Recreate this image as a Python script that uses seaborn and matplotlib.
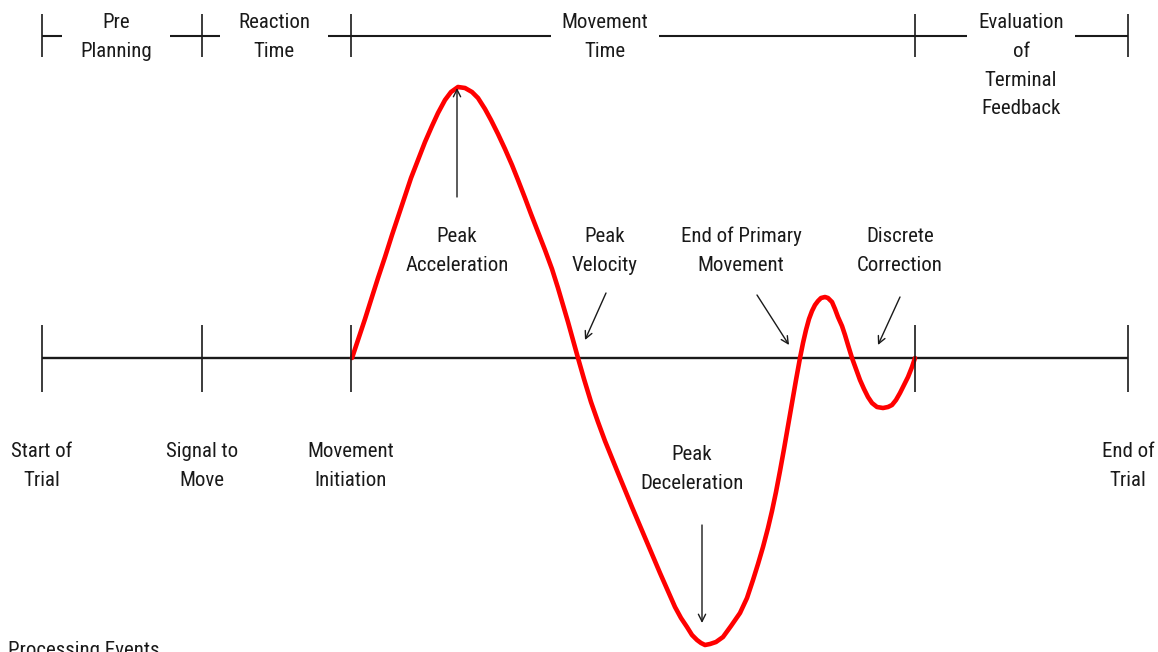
#!/usr/bin/env python3
"""
Movement phases diagram: acceleration profile of an aimed movement
with processing events along the time line.
"""

import matplotlib
matplotlib.use("Agg")
import matplotlib.pyplot as plt
from matplotlib import font_manager
import pandas as pd
import seaborn as sns

# acceleration trace (time, acceleration in arbitrary units)
TIME = [352, 358, 365, 371, 378, 385, 392, 398, 405, 411, 418, 425, 432, 438,
        445, 451, 458, 465, 472, 478, 485, 491, 498, 505, 512, 518, 525, 531,
        538, 545, 552, 558, 563, 568, 573, 578, 584, 591, 598, 605, 618, 632,
        646, 660, 675, 681, 687, 692, 697, 701, 705, 710, 716, 723, 731, 740,
        747, 753, 758, 763, 768, 772, 776, 780, 784, 788, 792, 796, 800, 803,
        806, 809, 812, 815, 818, 821, 825, 828, 832, 835, 838, 842, 845, 848,
        852, 856, 860, 864, 868, 872, 877, 883, 888, 892, 896, 900, 904, 908,
        912, 915]
ACCEL = [0, 18, 39, 58, 80, 101, 123, 141, 162, 180, 198, 216, 232, 245,
         258, 266, 271, 270, 266, 260, 249, 238, 224, 209, 193, 178, 160, 144,
         126, 108, 89, 70, 53, 36, 18, 0, -21, -44, -64, -83, -115, -149,
         -182, -215, -249, -260, -269, -277, -282, -285, -287, -286, -284, -279, -268, -255,
         -240, -222, -206, -189, -170, -153, -134, -113, -91, -68, -45, -22, 0, 15,
         28, 39, 47, 53, 57, 60, 61, 60, 56, 49, 41, 32, 23, 13,
         0, -11, -22, -31, -39, -45, -49, -50, -49, -47, -42, -35, -27, -19,
         -9, 0]

# processing events on the time line
EVENT_T = [42, 202, 351, 915, 1128]
EVENT_LABELS = ["Start of\nTrial", "Signal to\nMove", "Movement\nInitiation", "", "End of\nTrial"]

# phases along the top
PHASE_LABELS = ["Pre\nPlanning", "Reaction\nTime", "Movement\nTime",
                "Evaluation\nof\nTerminal\nFeedback"]
PHASE_LABEL_T = [116, 274, 605, 1021]

# annotated features of the trace: label, label position, arrow start, arrow tip
FEATURE_LABELS = ["Peak\nAcceleration", "Peak\nVelocity", "End of Primary\nMovement",
                  "Discrete\nCorrection", "Peak\nDeceleration"]
FEATURE_TEXT_XY = [(457, 107), (605, 107), (741, 107), (900, 107), (692, -111)]
FEATURE_FROM = [(457, 161), (606, 65), (757, 63), (900, 61), (702, -167)]
FEATURE_TO = [(457, 270), (585, 18), (789, 13), (878, 13), (702, -265)]

TOP_Y = 322
GAP = 54
INK = "#1a1a1a"
LS = 1.65
NARROW_PREFS = ["Liberation Sans Narrow", "Arial Narrow", "Roboto Condensed",
                "Noto Sans Condensed", "Open Sans Condensed", "DejaVu Sans Condensed"]


def pick_font():
    """Find a condensed sans face; fall back to plain Liberation Sans."""
    cands = []
    for f in font_manager.fontManager.ttflist:
        if f.style != "normal" or f.weight not in (400, "normal", "regular"):
            continue
        narrow = ("Narrow" in f.name or "Condensed" in f.name
                  or f.stretch in ("condensed", "semi-condensed", 75, 87.5))
        if narrow:
            key = f.name if f.stretch == "normal" else f.name + " Condensed"
            cands.append((key, f.fname))
    for pref in NARROW_PREFS:
        for key, fname in cands:
            if key.startswith(pref):
                return font_manager.FontProperties(fname=fname, size=15)
    if cands:
        return font_manager.FontProperties(fname=cands[0][1], size=14.5)
    return font_manager.FontProperties(family="Liberation Sans", size=13)


def main():
    sns.set_theme(style="white")
    plt.rcParams["font.family"] = ["Liberation Sans", "DejaVu Sans"]
    fp = pick_font()

    fig = plt.figure(figsize=(11.58, 6.52), dpi=100)
    ax = fig.add_axes([0, 0, 1, 1])
    ax.set_xlim(0, 1158)
    ax.set_ylim(-294, 358)
    ax.axis("off")

    # bottom time line with event ticks
    ax.hlines(0, EVENT_T[0], EVENT_T[-1], color=INK, lw=1.7, zorder=1)
    ax.vlines(EVENT_T, -34, 33, color=INK, lw=1.2, zorder=3)
    for t, lab in zip(EVENT_T, EVENT_LABELS):
        if lab:
            ax.text(t, -108, lab, ha="center", va="center", fontproperties=fp,
                    color=INK, linespacing=LS)

    # top phase line, broken where the labels sit
    edges = [EVENT_T[0]]
    for cx in PHASE_LABEL_T:
        edges += [cx - GAP, cx + GAP]
    edges.append(EVENT_T[-1])
    for a, b in zip(edges[::2], edges[1::2]):
        ax.hlines(TOP_Y, a, b, color=INK, lw=1.5)
    ax.vlines(EVENT_T, TOP_Y - 21, TOP_Y + 22, color=INK, lw=1.2)
    for cx, lab in zip(PHASE_LABEL_T, PHASE_LABELS):
        ax.text(cx, 345, lab, ha="center", va="top", fontproperties=fp,
                color=INK, linespacing=LS)

    # acceleration trace
    df = pd.DataFrame({"time": TIME, "accel": ACCEL})
    sns.lineplot(data=df, x="time", y="accel", sort=False, estimator=None,
                 color="#ff0000", lw=3.3, ax=ax, zorder=2,
                 solid_capstyle="round", solid_joinstyle="round")

    # feature annotations
    for lab, txy, p0, p1 in zip(FEATURE_LABELS, FEATURE_TEXT_XY, FEATURE_FROM, FEATURE_TO):
        ax.text(txy[0], txy[1], lab, ha="center", va="center", fontproperties=fp,
                color=INK, linespacing=LS)
        ax.annotate("", xy=p1, xytext=p0,
                    arrowprops=dict(arrowstyle="->", color=INK, lw=1.0,
                                    shrinkA=0, shrinkB=0, mutation_scale=13))

    ax.text(8, -283, "Processing Events", ha="left", va="top", fontproperties=fp,
            color=INK)

    ax.set_xlabel("")
    ax.set_ylabel("")
    fig.savefig("out.png", dpi=100)
    plt.close(fig)


if __name__ == "__main__":
    main()
